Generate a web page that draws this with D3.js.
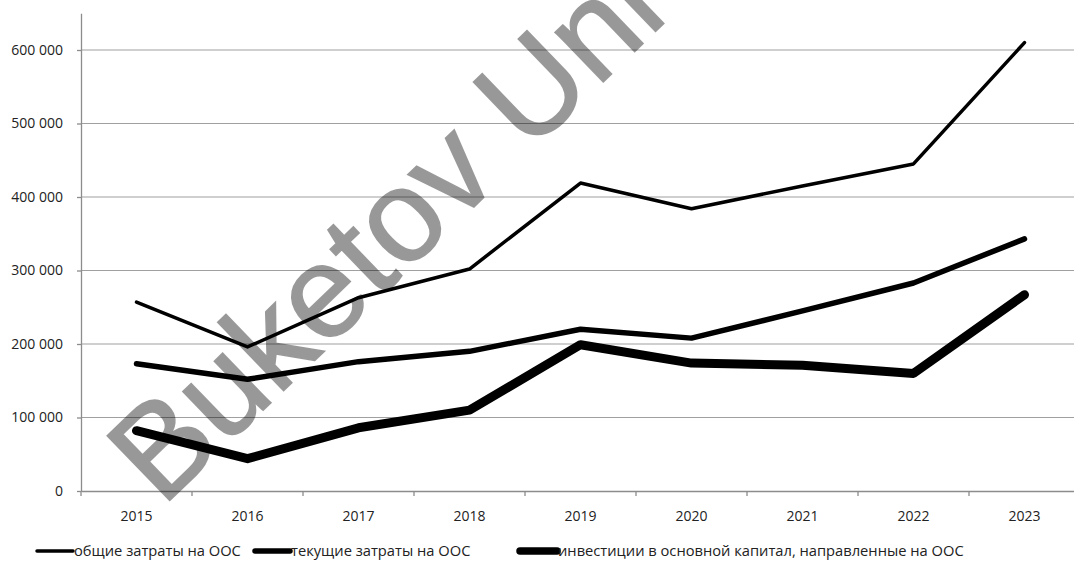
<!DOCTYPE html>
<html><head><meta charset="utf-8">
<script src="https://cdn.jsdelivr.net/npm/d3@7"></script>
<style>html,body{margin:0;padding:0;background:#fff}svg{display:block}</style>
</head><body>
<svg id="chart" width="1074" height="563"></svg>
<script>
const years = ["2015","2016","2017","2018","2019","2020","2021","2022","2023"];
const totalCosts = [257000, 196000, 263000, 302000, 419000, 384000, 415000, 445000, 610000];
const currentCosts = [173000, 152000, 176000, 190000, 220000, 208000, 245000, 283000, 343000];
const investments = [82000, 44000, 86000, 110000, 199000, 174000, 171000, 160000, 267000];
const seriesNames = ["общие затраты на ООС", "текущие затраты на ООС", "инвестиции в основной капитал, направленные на ООС"];
const yTicks = [0, 100000, 200000, 300000, 400000, 500000, 600000];
const watermark = "Buketov Uni";

(function () {
const series = [
  {name: seriesNames[0], values: totalCosts, w: 3.5, lw: 3.5},
  {name: seriesNames[1], values: currentCosts, w: 5.5, lw: 5.5},
  {name: seriesNames[2], values: investments, w: 9, lw: 7.5}
];

const svg = d3.select("#chart");
const font = "'Open Sans', 'Liberation Sans', sans-serif";
const mL = 81, mR = 1080, mT = 13.25, mB = 491;

const x = d3.scaleBand().domain(years).range([mL, mR]).padding(0);
const y = d3.scaleLinear().domain([0, 650000]).range([mB, mT]);
const fmt = d3.formatLocale({decimal: ",", thousands: " ", grouping: [3], currency: ["", ""]}).format(",d");

// gridlines
svg.append("g").selectAll("line").data(yTicks.filter(d => d > 0)).join("line")
  .attr("x1", mL).attr("x2", mR)
  .attr("y1", d => y(d)).attr("y2", d => y(d))
  .attr("stroke", "#a0a0a0").attr("stroke-width", 1.2);

// y axis
const yAxis = svg.append("g").attr("transform", `translate(${mL},0)`)
  .call(d3.axisLeft(y).tickValues(yTicks).tickFormat(fmt).tickSize(4).tickPadding(14).tickSizeOuter(0));
yAxis.select(".domain").attr("stroke", "#8c8c8c").attr("stroke-width", 1.3);
yAxis.selectAll(".tick line").attr("stroke", "#8c8c8c").attr("stroke-width", 1.3);
yAxis.selectAll("text").attr("font-family", font).attr("font-size", 14).attr("fill", "#222");

// x axis
const xAxis = svg.append("g").attr("transform", `translate(0,${mB})`)
  .call(d3.axisBottom(x).tickSize(0).tickPadding(20));
xAxis.select(".domain").attr("stroke", "#8c8c8c").attr("stroke-width", 1.3);
xAxis.selectAll("text").attr("font-family", font).attr("font-size", 14).attr("fill", "#222");
// category boundary ticks
svg.append("g").selectAll("line").data(years).join("line")
  .attr("x1", d => x(d)).attr("x2", d => x(d))
  .attr("y1", mB).attr("y2", mB + 5)
  .attr("stroke", "#8c8c8c").attr("stroke-width", 1.3);

// lines
const line = d3.line().x((d, i) => x(years[i]) + x.bandwidth() / 2).y(d => y(d));
svg.append("g").selectAll("path").data(series).join("path")
  .attr("d", d => line(d.values))
  .attr("fill", "none").attr("stroke", "#000")
  .attr("stroke-width", d => d.w)
  .attr("stroke-linejoin", "round").attr("stroke-linecap", "round");

// legend
const legendY = 551;
const legendPos = [[37, 73], [255, 290], [520, 557]];
const lg = svg.append("g");
series.forEach((s, i) => {
  const [a, b] = legendPos[i];
  lg.append("line").attr("x1", a).attr("x2", b).attr("y1", legendY).attr("y2", legendY)
    .attr("stroke", "#000").attr("stroke-width", s.lw).attr("stroke-linecap", "round");
  lg.append("text").attr("x", b + 1).attr("y", legendY).attr("dy", "0.35em")
    .attr("font-family", font).attr("font-size", 14.7).attr("fill", "#222").text(s.name);
});

// watermark
svg.append("g").attr("opacity", 0.4).append("text")
  .attr("transform", "translate(162,508) rotate(-44)")
  .attr("font-family", "'Liberation Sans', Arial, sans-serif")
  .attr("font-size", 131)
  .attr("fill", "#000").attr("stroke", "#000").attr("stroke-width", 1.5).attr("stroke-linejoin", "miter")
  .text(watermark);
})();
</script>
</body></html>
